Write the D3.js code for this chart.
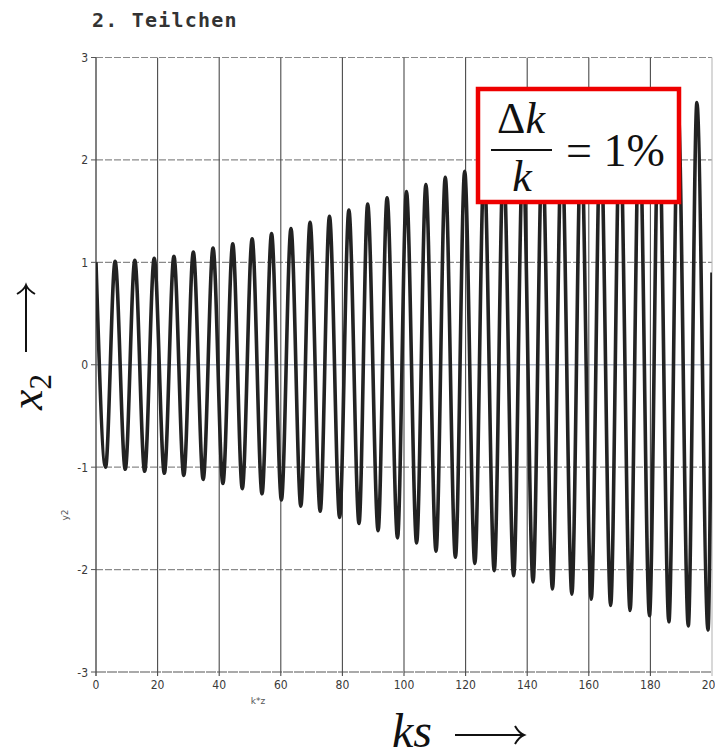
<!DOCTYPE html>
<html><head><meta charset="utf-8">
<script src="https://cdn.jsdelivr.net/npm/d3@7"></script>
<style>html,body{margin:0;padding:0;background:#fff}svg{display:block}</style>
</head><body>
<script>
// ---- data ----
const title = "2. Teilchen";
const xTicks = [0, 20, 40, 60, 80, 100, 120, 140, 160, 180, 200];
const yTicks = [-3, -2, -1, 0, 1, 2, 3];
const xLabel = "k*z";
const yLabel = "y2";
// positions (k*z) and values (y2) of the maxima
const peakKs = [0, 6.2, 12.6, 18.9, 25.3, 31.6, 38.0, 44.4, 50.7, 57.0, 63.3, 69.5, 75.8, 82.1, 88.2, 94.5,
                100.8, 107.1, 113.4, 119.7, 126.0, 132.3, 138.6, 144.9, 151.2, 157.5, 163.8, 170.1, 176.4, 182.7, 189.0, 195.1];
const peakVal = [1.00, 1.01, 1.02, 1.04, 1.06, 1.10, 1.14, 1.18, 1.23, 1.28, 1.33, 1.39, 1.45, 1.51, 1.57, 1.63,
                 1.69, 1.76, 1.83, 1.89, 1.95, 2.01, 2.07, 2.13, 2.18, 2.24, 2.30, 2.35, 2.41, 2.46, 2.51, 2.56];
// positions and values of the minima
const troughKs = [3.1, 9.5, 15.8, 22.2, 28.5, 34.8, 41.2, 47.5, 53.9, 60.2, 66.5, 72.8, 79.1, 85.4, 91.6, 97.9,
                  104.1, 110.4, 116.7, 123.0, 129.3, 135.6, 141.9, 148.2, 154.5, 160.8, 167.1, 173.4, 179.7, 186.0, 192.3, 198.7];
const troughVal = [-1.00, -1.02, -1.04, -1.06, -1.08, -1.12, -1.16, -1.21, -1.26, -1.32, -1.38, -1.43, -1.49, -1.55, -1.62, -1.69,
                   -1.74, -1.82, -1.88, -1.94, -2.01, -2.06, -2.12, -2.19, -2.24, -2.29, -2.35, -2.40, -2.45, -2.51, -2.55, -2.59];
const endPoint = [200, 0.9];

// ---- drawing ----
const W = 715, H = 756;
const svg = d3.select("body").append("svg").attr("width", W).attr("height", H);

const x = d3.scaleLinear().domain([0, 200]).range([96, 712]);
const y = d3.scaleLinear().domain([-3, 3]).range([672, 57.5]);

// title
svg.append("text").attr("x", 92).attr("y", 27)
  .attr("font-family", "DejaVu Sans Mono").attr("font-weight", "bold")
  .attr("font-size", 20).attr("letter-spacing", 1.2).attr("fill", "#333")
  .text(title);

// horizontal grid (dashed)
svg.append("g").selectAll("line").data(yTicks).join("line")
  .attr("x1", x(0)).attr("x2", x(200))
  .attr("y1", d => y(d)).attr("y2", d => y(d))
  .attr("stroke", d => d === 0 ? "#b4bccb" : (d === -3 ? "#555" : "#8a8a8a"))
  .attr("stroke-width", d => d === 0 ? 1.6 : 1.1)
  .attr("stroke-dasharray", d => d === 0 ? null : (d === -3 ? "10,1" : "7,2"));

// vertical grid (solid)
svg.append("g").selectAll("line").data(xTicks).join("line")
  .attr("x1", d => x(d)).attr("x2", d => x(d))
  .attr("y1", y(3)).attr("y2", y(-3) + 4)
  .attr("stroke", d => d === 200 ? "#b8b8b8" : "#4a4a4a")
  .attr("stroke-width", d => d === 0 ? 1.4 : 1.1);

// y tick marks
svg.append("g").selectAll("line").data(yTicks).join("line")
  .attr("x1", x(0) - 5).attr("x2", x(0))
  .attr("y1", d => y(d)).attr("y2", d => y(d))
  .attr("stroke", "#555").attr("stroke-width", 1);

// tick labels
svg.append("g").selectAll("text").data(yTicks).join("text")
  .attr("x", x(0) - 8).attr("y", d => y(d) + 4.5)
  .attr("text-anchor", "end")
  .attr("font-family", "DejaVu Sans Condensed, DejaVu Sans").attr("font-size", 12)
  .attr("fill", "#3a3a3a").text(d => d);
svg.append("g").selectAll("text").data(xTicks).join("text")
  .attr("x", d => x(d)).attr("y", y(-3) + 17)
  .attr("text-anchor", "middle")
  .attr("font-family", "DejaVu Sans Condensed, DejaVu Sans").attr("font-size", 12)
  .attr("fill", "#3a3a3a").text(d => d);

// small axis titles
svg.append("text").attr("x", 258).attr("y", 704).attr("text-anchor", "middle")
  .attr("font-family", "DejaVu Sans").attr("font-size", 9).attr("fill", "#555").text(xLabel);
svg.append("text").attr("transform", "translate(68,515) rotate(-90)").attr("text-anchor", "middle")
  .attr("font-family", "DejaVu Sans").attr("font-size", 9).attr("fill", "#555").text(yLabel);

// curve through extrema
const pts = [];
peakKs.forEach((k, i) => pts.push([k, peakVal[i]]));
troughKs.forEach((k, i) => pts.push([k, troughVal[i]]));
pts.push(endPoint);
pts.sort((a, b) => a[0] - b[0]);

svg.append("clipPath").attr("id", "plot").append("rect")
  .attr("x", x(0)).attr("y", y(3)).attr("width", x(200) - x(0)).attr("height", y(-3) - y(3));

svg.append("path").datum(pts)
  .attr("clip-path", "url(#plot)")
  .attr("fill", "none").attr("stroke", "#222").attr("stroke-width", 3.6)
  .attr("stroke-linejoin", "round")
  .attr("d", d3.line().x(d => x(d[0])).y(d => y(d[1])).curve(d3.curveMonotoneX));

// annotation box
const box = svg.append("g");
box.append("rect").attr("x", 478).attr("y", 89).attr("width", 201).attr("height", 113)
  .attr("fill", "#fff").attr("stroke", "#ee0000").attr("stroke-width", 4.5);
const serif = "Liberation Serif, DejaVu Serif, serif";
const num = box.append("text").attr("x", 521).attr("y", 133).attr("text-anchor", "middle")
  .attr("font-family", serif).attr("font-size", 44).attr("fill", "#111");
num.append("tspan").text("Δ");
num.append("tspan").attr("font-style", "italic").text("k");
box.append("line").attr("x1", 491).attr("x2", 552).attr("y1", 150).attr("y2", 150)
  .attr("stroke", "#111").attr("stroke-width", 2);
box.append("text").attr("x", 522).attr("y", 191).attr("text-anchor", "middle")
  .attr("font-family", serif).attr("font-style", "italic").attr("font-size", 44).attr("fill", "#111").text("k");
box.append("text").attr("x", 566).attr("y", 166)
  .attr("font-family", serif).attr("font-size", 46).attr("fill", "#111").text("= 1%");

// big axis labels (LaTeX style)
const ylab = svg.append("g").attr("transform", "translate(42,410) rotate(-90)");
const yt = ylab.append("text").attr("x", 0).attr("y", 0)
  .attr("font-family", serif).attr("font-size", 46).attr("fill", "#111");
yt.append("tspan").attr("font-style", "italic").text("x");
yt.append("tspan").attr("font-size", 31).attr("dy", 9).text("2");
// arrow along y-label
ylab.append("line").attr("x1", 58).attr("x2", 124).attr("y1", -16).attr("y2", -16)
  .attr("stroke", "#111").attr("stroke-width", 2);
ylab.append("path").attr("d", "M116,-25 Q120,-18 125,-16 Q120,-14 116,-7")
  .attr("fill", "none").attr("stroke", "#111").attr("stroke-width", 2);

svg.append("text").attr("x", 392).attr("y", 747)
  .attr("font-family", serif).attr("font-style", "italic").attr("font-size", 48).attr("fill", "#111").text("ks");
svg.append("line").attr("x1", 455).attr("x2", 523).attr("y1", 735).attr("y2", 735)
  .attr("stroke", "#111").attr("stroke-width", 2);
svg.append("path").attr("d", "M515,726 Q519,733 524,735 Q519,737 515,744")
  .attr("fill", "none").attr("stroke", "#111").attr("stroke-width", 2);
</script>
</body></html>
